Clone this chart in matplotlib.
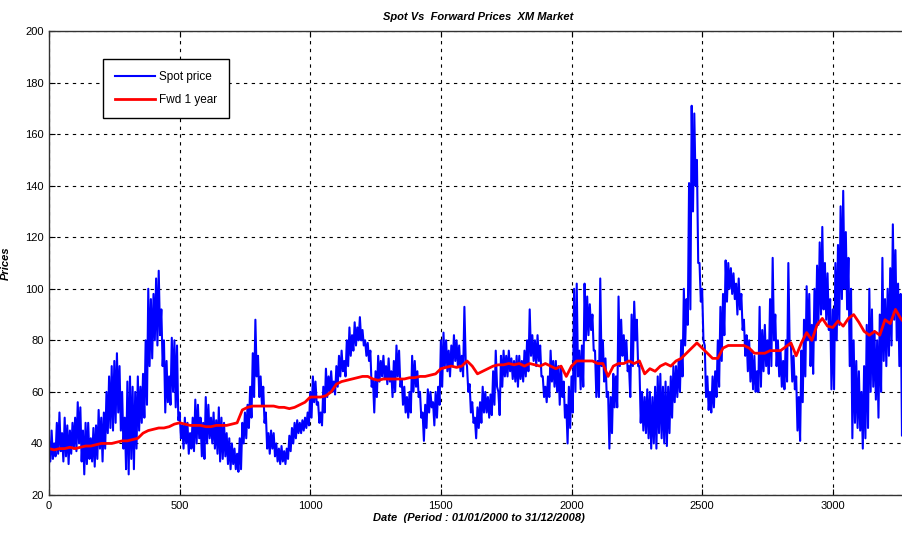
import numpy as np
import matplotlib
matplotlib.use("Agg")
import matplotlib.pyplot as plt

# Spot price, daily index 01/01/2000 .. 31/12/2008.
# For each 10-day block: the block's high and its low.
block_days = 10
spot_high = [
    41, 45, 40, 48, 52, 44, 50, 47, 45, 48,
    50, 56, 54, 45, 48, 48, 42, 46, 47, 53,
    50, 52, 60, 66, 70, 72, 75, 70, 60, 50,
    64, 66, 62, 60, 66, 62, 67, 80, 100, 96,
    98, 104, 107, 92, 80, 72, 66, 81, 80, 78,
    52, 47, 50, 48, 44, 50, 57, 55, 50, 48,
    58, 55, 50, 52, 49, 54, 50, 48, 44, 42,
    40, 38, 36, 42, 48, 52, 55, 62, 75, 88,
    74, 66, 62, 52, 44, 45, 44, 40, 38, 39,
    37, 38, 43, 46, 48, 49, 48, 49, 50, 52,
    60, 66, 64, 56, 52, 62, 69, 66, 68, 64,
    70, 74, 76, 72, 80, 85, 82, 87, 85, 89,
    84, 80, 79, 76, 65, 68, 74, 72, 74, 70,
    73, 68, 72, 78, 76, 65, 62, 58, 60, 74,
    72, 68, 60, 52, 55, 61, 60, 56, 60, 62,
    80, 83, 80, 76, 78, 82, 80, 78, 74, 93,
    70, 63, 56, 50, 54, 56, 62, 60, 58, 59,
    68, 76, 60, 74, 76, 74, 76, 73, 72, 74,
    74, 72, 76, 80, 92, 82, 80, 82, 78, 66,
    62, 66, 76, 72, 72, 70, 70, 64, 55, 62,
    66, 100, 102, 76, 78, 102, 97, 94, 90, 76,
    72, 104, 80, 73, 60, 58, 67, 66, 97, 88,
    82, 80, 70, 90, 95, 88, 70, 60, 58, 61,
    60, 58, 62, 66, 67, 62, 64, 62, 66, 70,
    70, 72, 80, 100, 96, 141, 171, 168, 150, 110,
    100, 78, 66, 60, 66, 68, 80, 93, 98, 111,
    110, 108, 106, 102, 104, 98, 88, 82, 80, 76,
    74, 68, 93, 84, 86, 80, 96, 112, 90, 80,
    76, 72, 80, 110, 78, 74, 66, 58, 76, 88,
    101, 98, 86, 100, 109, 118, 124, 110, 106, 96,
    92, 110, 117, 132, 138, 122, 112, 100, 80, 72,
    68, 60, 70, 86, 100, 92, 83, 80, 90, 112,
    96, 100, 108, 125, 115, 102, 98, 92, 88,
]
spot_low = [
    33, 34, 35, 36, 37, 33, 35, 32, 36, 38,
    37, 40, 33, 28, 32, 34, 33, 31, 34, 38,
    33, 38, 44, 46, 45, 48, 52, 45, 38, 30,
    28, 34, 30, 38, 45, 48, 50, 55, 70, 73,
    80, 78, 82, 70, 52, 56, 55, 60, 54, 49,
    42, 38, 40, 36, 38, 37, 40, 42, 35, 34,
    40, 42, 40, 38, 36, 33, 34, 35, 32, 30,
    32, 30, 29, 30, 40, 42, 46, 50, 58, 66,
    58, 55, 48, 38, 36, 38, 35, 33, 32, 33,
    32, 34, 37, 40, 42, 44, 44, 45, 46, 47,
    50, 56, 55, 48, 47, 52, 58, 60, 60, 59,
    62, 66, 68, 66, 70, 74, 76, 78, 80, 80,
    78, 74, 72, 62, 52, 58, 64, 66, 65, 63,
    64, 58, 60, 66, 62, 55, 52, 50, 52, 60,
    62, 58, 50, 41, 46, 52, 54, 47, 50, 55,
    62, 70, 68, 66, 70, 72, 70, 68, 66, 72,
    60, 52, 48, 42, 46, 48, 52, 52, 50, 51,
    55, 62, 51, 62, 66, 66, 68, 65, 64, 62,
    65, 64, 66, 68, 74, 72, 70, 72, 66, 58,
    56, 58, 64, 62, 60, 55, 58, 50, 40, 46,
    52, 60, 66, 61, 62, 80, 82, 84, 76, 58,
    58, 70, 64, 58, 38, 44, 54, 54, 70, 74,
    72, 68, 58, 70, 80, 70, 48, 45, 44, 42,
    38, 40, 38, 44, 42, 40, 39, 44, 50, 56,
    58, 60, 66, 78, 86, 92, 130, 140, 110, 95,
    80, 58, 53, 52, 54, 58, 62, 72, 82, 95,
    100, 98, 96, 90, 92, 84, 74, 68, 64, 61,
    60, 60, 62, 68, 70, 67, 70, 80, 70, 66,
    62, 61, 64, 78, 64, 61, 45, 41, 56, 66,
    80, 70, 67, 80, 86, 90, 92, 88, 84, 61,
    61, 80, 86, 96, 100, 92, 70, 42, 48, 46,
    45, 38, 42, 46, 60, 62, 57, 50, 60, 72,
    70, 74, 78, 88, 80, 70, 43, 50, 60,
]

# One-year forward price, sampled every 20 days
fwd_step = 20
fwd_1year = [
    38, 37.5, 38, 38, 38.5, 38, 38.5, 39, 39, 39.5,
    40, 40, 40, 40.5, 41, 41, 41.5, 42, 44, 45,
    45.5, 46, 46, 46.5, 47.5, 48, 47.5, 47, 47, 47,
    46.5, 46.5, 47, 47, 47, 47.5, 48, 53, 54, 54.5,
    54.5, 54.5, 54.5, 54.5, 54, 54, 53.5, 54, 55, 56,
    58, 58, 58, 58.5, 60, 63, 64, 64.5, 65, 65.5,
    66, 66, 65, 64.5, 65, 65, 65, 65, 65, 65.5,
    65.5, 66, 66, 66.5, 67, 69, 69.5, 70, 69.5, 70,
    72, 70, 67, 68, 69, 70, 70.5, 70.5, 71, 70.5,
    71, 70, 71, 70.5, 70, 71, 70, 69, 70, 66,
    70, 72, 72, 72, 72, 71, 71, 66, 70, 71,
    71, 72, 71, 72, 67, 69, 68, 70, 71, 70,
    72, 73, 75, 77, 79, 77, 75, 73, 73, 77,
    78, 78, 78, 78, 77, 75, 75, 75, 76, 76,
    76, 77.5, 79, 74, 79, 83, 80, 86, 88.5, 85.5,
    85, 87.5, 85.5, 88.5, 90, 87, 83.5, 82, 83.5, 82,
    88, 86.5, 92, 88.5, 86,
]

x_ticks = [0, 500, 1000, 1500, 2000, 2500, 3000]
y_ticks = [20, 40, 60, 80, 100, 120, 140, 160, 180, 200]

# interleave each block's high and low so the daily swings show as a dense trace
n_blocks = len(spot_high)
spot_days = np.empty(2 * n_blocks)
spot_days[0::2] = np.arange(n_blocks) * block_days
spot_days[1::2] = np.arange(n_blocks) * block_days + block_days / 2
spot_vals = np.empty(2 * n_blocks)
spot_vals[0::2] = spot_high
spot_vals[1::2] = spot_low

fwd_days = np.arange(len(fwd_1year)) * fwd_step

fig = plt.figure(figsize=(9.02, 5.33), dpi=100)
ax = fig.add_axes([49 / 902, 38 / 533, 859 / 902, 464 / 533])

ax.plot(spot_days, spot_vals, color="#0000ff", lw=1.5, label="Spot price")
ax.plot(fwd_days, fwd_1year, color="#ff0000", lw=2.0, label="Fwd 1 year")

ax.set_xlim(0, 3288)
ax.set_ylim(20, 200)
ax.set_xticks(x_ticks)
ax.set_yticks(y_ticks)

tick_font = {"family": ["Liberation Sans Narrow", "Liberation Sans", "DejaVu Sans"], "size": 8}
ax.set_xticklabels([str(v) for v in x_ticks], **tick_font)
ax.set_yticklabels([str(v) for v in y_ticks], **tick_font)
ax.tick_params(direction="in", top=True, right=True, length=4, width=0.8, pad=4)

ax.grid(True, color="black", linestyle=(0, (3, 4)), linewidth=0.8)
for s in ax.spines.values():
    s.set_color("#333333")
    s.set_linewidth(1.0)

lab_font = {"family": ["Liberation Sans", "DejaVu Sans"], "weight": "bold", "style": "italic", "size": 8}
ax.set_title("Spot Vs  Forward Prices  XM Market", pad=8, **lab_font)
ax.set_xlabel("Date  (Period : 01/01/2000 to 31/12/2008)", labelpad=2, **lab_font)
ax.set_ylabel("Prices", labelpad=10, **lab_font)

leg = ax.legend(loc="upper left", bbox_to_anchor=(0.063, 0.94), borderaxespad=0,
                frameon=True, fancybox=False, edgecolor="black", framealpha=1,
                handlelength=3.4, handletextpad=0.3, borderpad=1.0, labelspacing=0.95,
                prop={"family": ["Liberation Sans", "DejaVu Sans"], "size": 8.5})
leg.get_frame().set_linewidth(1.0)

fig.savefig("out.png", dpi=100)
